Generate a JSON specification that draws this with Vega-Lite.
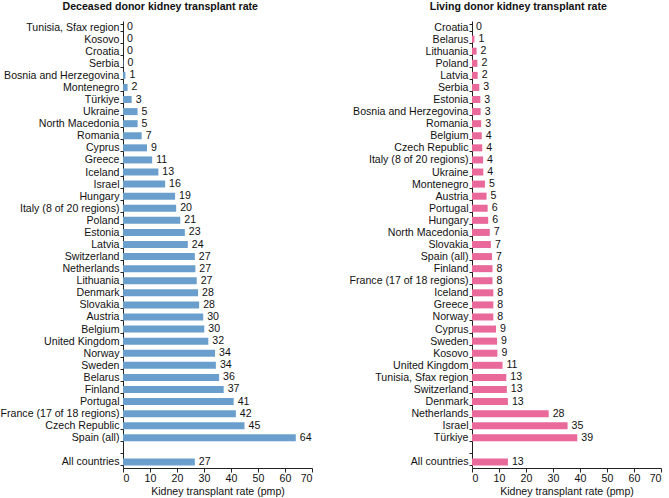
{
  "$schema": "https://vega.github.io/schema/vega-lite/v6.json",
  "padding": {"left": 0, "top": 2, "right": 2, "bottom": 0},
  "spacing": 36,
  "config": {
    "font": "Liberation Sans",
    "view": {"stroke": null},
    "axis": {"labelFont": "Liberation Sans", "titleFont": "Liberation Sans", "labelFontSize": 10.6, "titleFontSize": 10.6, "labelColor": "#111", "titleColor": "#111", "titleFontWeight": "normal", "domainColor": "#222", "tickColor": "#222", "grid": false},
    "title": {"font": "Liberation Sans", "fontSize": 10.6, "fontWeight": "bold", "color": "#111", "frame": "bounds", "anchor": "middle", "offset": 3}
  },
  "datasets": {
    "deceased": [
      {"country": "Tunisia, Sfax region", "rate": 0},
      {"country": "Kosovo", "rate": 0},
      {"country": "Croatia", "rate": 0},
      {"country": "Serbia", "rate": 0.2},
      {"country": "Bosnia and Herzegovina", "rate": 0.9},
      {"country": "Montenegro", "rate": 1.7},
      {"country": "Türkiye", "rate": 3.2},
      {"country": "Ukraine", "rate": 5.4},
      {"country": "North Macedonia", "rate": 5.4},
      {"country": "Romania", "rate": 6.9},
      {"country": "Cyprus", "rate": 8.9},
      {"country": "Greece", "rate": 10.8},
      {"country": "Iceland", "rate": 13.1},
      {"country": "Israel", "rate": 15.6},
      {"country": "Hungary", "rate": 19.3},
      {"country": "Italy (8 of 20 regions)", "rate": 19.7},
      {"country": "Poland", "rate": 21.2},
      {"country": "Estonia", "rate": 22.9},
      {"country": "Latvia", "rate": 24.0},
      {"country": "Switzerland", "rate": 26.6},
      {"country": "Netherlands", "rate": 26.8},
      {"country": "Lithuania", "rate": 27.3},
      {"country": "Denmark", "rate": 27.8},
      {"country": "Slovakia", "rate": 28.2},
      {"country": "Austria", "rate": 29.7},
      {"country": "Belgium", "rate": 30.1},
      {"country": "United Kingdom", "rate": 31.6},
      {"country": "Norway", "rate": 34.1},
      {"country": "Sweden", "rate": 34.4},
      {"country": "Belarus", "rate": 35.6},
      {"country": "Finland", "rate": 37.3},
      {"country": "Portugal", "rate": 41.0},
      {"country": "France (17 of 18 regions)", "rate": 41.8},
      {"country": "Czech Republic", "rate": 45.0},
      {"country": "Spain (all)", "rate": 64.0},
      {"country": "All countries", "rate": 26.6}
    ],
    "living": [
      {"country": "Croatia", "rate": 0},
      {"country": "Belarus", "rate": 0.9},
      {"country": "Lithuania", "rate": 1.7},
      {"country": "Poland", "rate": 2.0},
      {"country": "Latvia", "rate": 2.1},
      {"country": "Serbia", "rate": 2.7},
      {"country": "Estonia", "rate": 3.1},
      {"country": "Bosnia and Herzegovina", "rate": 3.2},
      {"country": "Romania", "rate": 3.4},
      {"country": "Belgium", "rate": 3.6},
      {"country": "Czech Republic", "rate": 3.8},
      {"country": "Italy (8 of 20 regions)", "rate": 4.1},
      {"country": "Ukraine", "rate": 4.2},
      {"country": "Montenegro", "rate": 4.8},
      {"country": "Austria", "rate": 5.4},
      {"country": "Portugal", "rate": 5.8},
      {"country": "Hungary", "rate": 6.0},
      {"country": "North Macedonia", "rate": 6.6},
      {"country": "Slovakia", "rate": 7.0},
      {"country": "Spain (all)", "rate": 7.4},
      {"country": "Finland", "rate": 7.6},
      {"country": "France (17 of 18 regions)", "rate": 7.6},
      {"country": "Iceland", "rate": 7.9},
      {"country": "Greece", "rate": 7.9},
      {"country": "Norway", "rate": 7.9},
      {"country": "Cyprus", "rate": 8.9},
      {"country": "Sweden", "rate": 9.3},
      {"country": "Kosovo", "rate": 9.4},
      {"country": "United Kingdom", "rate": 11.3},
      {"country": "Tunisia, Sfax region", "rate": 12.7},
      {"country": "Switzerland", "rate": 12.9},
      {"country": "Denmark", "rate": 13.3},
      {"country": "Netherlands", "rate": 28.4},
      {"country": "Israel", "rate": 35.4},
      {"country": "Türkiye", "rate": 39.0},
      {"country": "All countries", "rate": 13.3}
    ]
  },
  "hconcat": [
    {
      "title": {"text": "Deceased donor kidney transplant rate", "dx": 4},
      "width": 189,
      "height": 447,
      "data": {"name": "deceased"},
      "encoding": {
        "y": {
          "field": "country", "type": "nominal", "title": null,
          "scale": {"paddingInner": 0.42, "paddingOuter": 0.21, "domain": ["Tunisia, Sfax region","Kosovo","Croatia","Serbia","Bosnia and Herzegovina","Montenegro","Türkiye","Ukraine","North Macedonia","Romania","Cyprus","Greece","Iceland","Israel","Hungary","Italy (8 of 20 regions)","Poland","Estonia","Latvia","Switzerland","Netherlands","Lithuania","Denmark","Slovakia","Austria","Belgium","United Kingdom","Norway","Sweden","Belarus","Finland","Portugal","France (17 of 18 regions)","Czech Republic","Spain (all)"," ","All countries"]},
          "axis": {"tickBand": "extent", "tickSize": 3, "labelPadding": 1, "domain": true}
        },
        "x": {
          "field": "rate", "type": "quantitative", "title": "Kidney transplant rate (pmp)",
          "scale": {"domain": [0, 70], "nice": false},
          "axis": {"values": [0,10,20,30,40,50,60,70], "tickSize": 4, "labelPadding": 1, "titlePadding": 3}
        }
      },
      "layer": [
        {"mark": {"type": "bar", "color": "#6a9fcd"}},
        {"mark": {"type": "text", "align": "left", "dx": 4, "fontSize": 10.6, "color": "#111"}, "encoding": {"text": {"field": "rate", "type": "quantitative", "format": ".0f"}}}
      ]
    },
    {
      "title": {"text": "Living donor kidney transplant rate", "dx": 13},
      "width": 189,
      "height": 447,
      "data": {"name": "living"},
      "encoding": {
        "y": {
          "field": "country", "type": "nominal", "title": null,
          "scale": {"paddingInner": 0.42, "paddingOuter": 0.21, "domain": ["Croatia","Belarus","Lithuania","Poland","Latvia","Serbia","Estonia","Bosnia and Herzegovina","Romania","Belgium","Czech Republic","Italy (8 of 20 regions)","Ukraine","Montenegro","Austria","Portugal","Hungary","North Macedonia","Slovakia","Spain (all)","Finland","France (17 of 18 regions)","Iceland","Greece","Norway","Cyprus","Sweden","Kosovo","United Kingdom","Tunisia, Sfax region","Switzerland","Denmark","Netherlands","Israel","Türkiye"," ","All countries"]},
          "axis": {"tickBand": "extent", "tickSize": 3, "labelPadding": 1, "domain": true}
        },
        "x": {
          "field": "rate", "type": "quantitative", "title": "Kidney transplant rate (pmp)",
          "scale": {"domain": [0, 70], "nice": false},
          "axis": {"values": [0,10,20,30,40,50,60,70], "tickSize": 4, "labelPadding": 1, "titlePadding": 3}
        }
      },
      "layer": [
        {"mark": {"type": "bar", "color": "#e8699a"}},
        {"mark": {"type": "text", "align": "left", "dx": 4, "fontSize": 10.6, "color": "#111"}, "encoding": {"text": {"field": "rate", "type": "quantitative", "format": ".0f"}}}
      ]
    }
  ]
}
